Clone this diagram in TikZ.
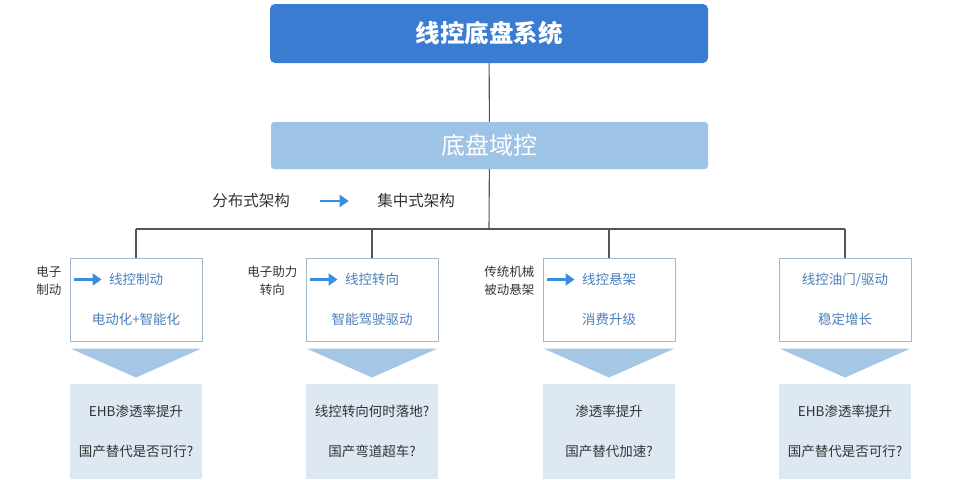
\documentclass[tikz,border=0pt]{standalone}
\usepackage{fontspec}
\setmainfont{Noto Sans CJK SC}
\usepackage{tikz}
\usetikzlibrary{calc,arrows.meta}
\definecolor{topblue}{HTML}{3A7CD2}
\definecolor{domblue}{HTML}{9DC3E6}
\definecolor{arrblue}{HTML}{3B8EDC}
\definecolor{txtblue}{HTML}{4C80BA}
\definecolor{txtgray}{HTML}{333333}
\definecolor{linegray}{HTML}{555555}
\definecolor{edgeblue}{HTML}{A6B8CA}
\definecolor{triblue}{HTML}{A6C6E6}
\definecolor{lowbg}{HTML}{DDE8F3}

\begin{document}
\begin{tikzpicture}[x=1pt,y=-1pt,
    link/.style={draw=linegray,line width=1.1pt},
    upbox/.style={draw=edgeblue,line width=1pt,fill=white,minimum width=132pt,minimum height=83pt,align=center,text=txtblue,font=\fontsize{13.5}{40}\selectfont},
    lowbox/.style={fill=lowbg,minimum width=132pt,minimum height=95pt,align=center,text=txtgray,font=\fontsize{13.5}{40}\selectfont},
    sidelabel/.style={align=center,text=txtgray,inner sep=0pt,font=\fontsize{12.5}{18}\selectfont},
    bluearrow/.style={arrblue,line width=2.6pt,-{Triangle[length=9pt,width=12pt]}}]
  \useasboundingbox (0,0) rectangle (960,479);
  \node[fill=topblue,rounded corners=5pt,minimum width=438pt,minimum height=59pt,text=white,font=\fontsize{24.5}{28}\selectfont\bfseries](sys)at(489,33.5){线控底盘系统};
  \node[fill=domblue,rounded corners=3pt,minimum width=437pt,minimum height=47pt,text=white,font=\fontsize{24}{28}\selectfont](dom)at(489.5,145.5){底盘域控};
  \coordinate (bar) at (489,229);
  \draw[link](sys)--(dom);
  \draw[link](dom)--(bar);
  \node[text=txtgray,font=\fontsize{15.5}{18}\selectfont](dist)at(251,201){分布式架构};
  \node[text=txtgray,font=\fontsize{15.5}{18}\selectfont](cent)at(416,201){集中式架构};
  \draw[bluearrow,shorten <=27pt,shorten >=25pt](dist)--(cent);
  \foreach \x/\i/\a/\b in {136/1/线控制动/电动化+智能化, 372/2/线控转向/智能驾驶驱动, 609/3/线控悬架/消费升级, 845/4/{线控油门/驱动}/稳定增长} {
    \node[upbox](up\i)at(\x,299.5){\a\\\b};
    \draw[link](up\i.north)--(up\i.north |- bar);
    \fill[triblue]($(up\i.south west)+(1,7)$)--($(up\i.south east)+(-1,7)$)--($(up\i.south)+(0,36)$)--cycle;
  }
  \draw[link](up1.north |- bar)--(up4.north |- bar);
  \foreach \x/\i/\c/\d in {136/1/EHB渗透率提升/国产替代是否可行?, 372/2/线控转向何时落地?/国产弯道超车?, 609/3/渗透率提升/国产替代加速?, 845/4/EHB渗透率提升/国产替代是否可行?}
    \node[lowbox](low\i)at(\x,431.5){\c\\\d};
  \foreach \i/\l in {1/{电子\\制动}, 2/{电子助力\\转向}, 3/{传统机械\\被动悬架}} {
    \draw[bluearrow]($(up\i.north west)+(4,22)$)--++(28,0);
    \node[sidelabel,anchor=east](side\i)at($(up\i.north west)+(-8,23)$){\l};
  }
\end{tikzpicture}
\end{document}
